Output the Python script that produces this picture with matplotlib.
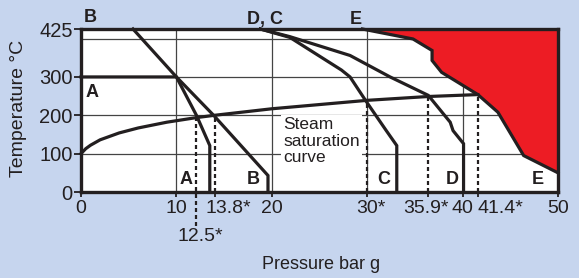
import numpy as np
import matplotlib
matplotlib.use("Agg")
import matplotlib.pyplot as plt

plt.rcParams["font.family"] = ["Liberation Sans", "DejaVu Sans"]

INK = "#231f20"
BG = "#c6d5ee"
RED = "#ed1c24"

# steam saturation curve (bar g, degC)
sat_p = [0, 0.5, 1, 2, 4, 6, 9, 12.1, 14.0, 20, 30, 36.4, 41.6]
sat_t = [100, 113, 122, 136, 154, 167, 182, 194, 200, 217, 239, 249, 254]

# product curves A-D
a_p = [0, 10.0, 12.1, 13.5, 13.5]
a_t = [300, 300, 200, 121, 0]
b_p = [5.45, 10.0, 13.9, 19.6, 19.6]
b_t = [425, 300, 200, 43, 0]
c_p = [18.8, 21.9, 27.3, 28.2, 29.9, 32.0, 33.1, 33.1]
c_t = [425, 403, 318, 300, 236, 160, 121, 0]
d_p = [18.8, 21.9, 28.2, 32.4, 36.4, 38.7, 39.0, 40.1, 40.1]
d_t = [425, 405, 356, 300, 252, 182, 160, 126, 0]

# curve E bounds the red region
e_p = [29.5, 30.3, 34.8, 36.8, 36.8, 37.8, 41.6, 43.7, 46.4, 50.0]
e_t = [425, 421, 399, 369, 343, 312, 254, 208, 95, 50]

# where the curves meet the saturation line, and what is printed there
cross_p = [12.1, 14.0, 30.0, 36.4, 41.6]
cross_lbl = ["12.5*", "13.8*", "30*", "35.9*", "41.4*"]

x_ticks = [0, 10, 20, 40, 50]
y_ticks = [0, 100, 200, 300, 425]
grid_x = [10, 20, 30, 40]
grid_y = [100, 200, 300, 400]

letters = [("B", 0.95, 456), ("A", 1.2, 260), ("D, C", 19.3, 451),
           ("E", 28.8, 451), ("A", 11.0, 33), ("B", 18.05, 33),
           ("C", 31.75, 33), ("D", 38.95, 33), ("E", 47.9, 33)]

fig = plt.figure(figsize=(5.79, 2.78), dpi=100, facecolor=BG)
ax = fig.add_axes([81 / 579, 86 / 278, 477 / 579, 163 / 278])
ax.set_facecolor("white")
ax.set_xlim(0, 50)
ax.set_ylim(0, 425)

for gx in grid_x:
    ax.axvline(gx, color="#444444", lw=0.9, zorder=1)
for gy in grid_y:
    ax.axhline(gy, color="#444444", lw=0.9, zorder=1)

ax.fill(e_p + [50], e_t + [425], color=RED, lw=0, zorder=2)

ax.text(21.2, 196, "Steam\nsaturation\ncurve", fontsize=12.5, color=INK,
        ha="left", va="top", zorder=2, linespacing=1.15,
        bbox=dict(boxstyle="square,pad=0.12", fc="white", ec="none"))

curve = dict(color=INK, lw=2.3, solid_joinstyle="miter", zorder=4)
for px, ty in [(a_p, a_t), (b_p, b_t), (c_p, c_t), (d_p, d_t), (e_p, e_t), (sat_p, sat_t)]:
    ax.plot(px, ty, clip_on=False, **curve)

# dotted drop lines from the saturation curve
tops = np.interp(cross_p, sat_p, sat_t)
leader_drop = -88  # the 12.5* line runs down to its label
for i, (xp, top) in enumerate(zip(cross_p, tops)):
    lo = leader_drop if i == 0 else 0
    ax.plot([xp, xp], [lo, top], color=INK, lw=1.6, ls=(0, (1.8, 1.35)),
            clip_on=False, zorder=3)

for txt, lx, ly in letters:
    ax.text(lx, ly, txt, fontsize=13, fontweight="bold", color=INK,
            ha="center", va="center", clip_on=False, zorder=5)

for s in ax.spines.values():
    s.set_linewidth(2.4)
    s.set_color(INK)
    s.set_zorder(6)

ax.set_yticks(y_ticks)
ax.set_yticklabels([str(v) for v in y_ticks])
ax.tick_params(axis="y", length=5, width=1.3, pad=1, labelsize=14.5,
               colors=INK)
ax.set_xticks(x_ticks + cross_p[1:])
ax.set_xticklabels([])
ax.tick_params(axis="x", length=3.6, width=1.3, colors=INK)

# x labels: number centred on its line, the asterisk hangs off the right
xl = [str(v) for v in x_ticks] + cross_lbl[1:]
xp_all = x_ticks + cross_p[1:]
nudge = {"13.8*": 10, "41.4*": 16, "35.9*": -1.5}
for lbl, xv in zip(xl, xp_all):
    dx = nudge.get(lbl, 3 if lbl.endswith("*") else 0)
    ax.annotate(lbl, xy=(xv, 0), xycoords=("data", "axes fraction"),
                xytext=(dx, -6), textcoords="offset points",
                ha="center", va="top", fontsize=14, color=INK)
ax.annotate(cross_lbl[0], xy=(cross_p[0], 0), xycoords=("data", "axes fraction"),
            xytext=(3, -32), textcoords="offset points",
            ha="center", va="center", fontsize=14, color=INK)

ax.set_xlabel("Pressure bar g", fontsize=13, color=INK, va="top")
ax.xaxis.set_label_coords(0.504, -0.395)
ax.set_ylabel("Temperature °C", fontsize=14, color=INK)
ax.yaxis.set_label_coords(-0.113, 0.51)

fig.savefig("out.png", dpi=100, facecolor=BG)
